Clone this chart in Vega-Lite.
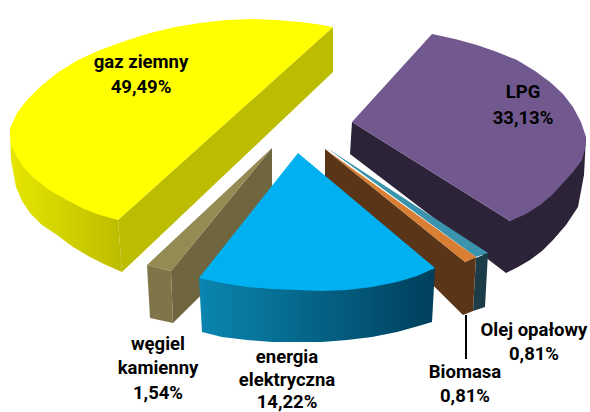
{
"$schema":"https://vega.github.io/schema/vega-lite/v6.json",
"width":590,"height":412,"padding":0,"autosize":{"type":"none"},
"background":"white","view":{"stroke":null},
"datasets":{
"shapes":[
{"part":"gas side curved","i":0,"px":10,"py":128},{"part":"gas side curved","i":1,"px":11,"py":160},{"part":"gas side curved","i":2,"px":16,"py":187},{"part":"gas side curved","i":3,"px":22,"py":201},{"part":"gas side curved","i":4,"px":30,"py":213},{"part":"gas side curved","i":5,"px":42,"py":225},{"part":"gas side curved","i":6,"px":57,"py":235},{"part":"gas side curved","i":7,"px":73,"py":247},{"part":"gas side curved","i":8,"px":90,"py":257},{"part":"gas side curved","i":9,"px":106,"py":265},{"part":"gas side curved","i":10,"px":122,"py":272},{"part":"gas side curved","i":11,"px":118,"py":220},{"part":"gas side curved","i":12,"px":67,"py":200},{"part":"gas side curved","i":13,"px":33,"py":177},{"part":"gas side curved","i":14,"px":17,"py":157},
{"part":"gas wall","i":0,"px":118,"py":220},{"part":"gas wall","i":1,"px":333,"py":27},{"part":"gas wall","i":2,"px":333,"py":72},{"part":"gas wall","i":3,"px":122,"py":272},
{"part":"gas top","i":0,"px":333,"py":27},{"part":"gas top","i":1,"px":316,"py":24},{"part":"gas top","i":2,"px":300,"py":22},{"part":"gas top","i":3,"px":276,"py":20},{"part":"gas top","i":4,"px":253,"py":19},{"part":"gas top","i":5,"px":226,"py":20},{"part":"gas top","i":6,"px":200,"py":23},{"part":"gas top","i":7,"px":175,"py":27},{"part":"gas top","i":8,"px":150,"py":33},{"part":"gas top","i":9,"px":125,"py":41},{"part":"gas top","i":10,"px":100,"py":50},{"part":"gas top","i":11,"px":78,"py":60},{"part":"gas top","i":12,"px":57,"py":73},{"part":"gas top","i":13,"px":41,"py":86},{"part":"gas top","i":14,"px":27,"py":100},{"part":"gas top","i":15,"px":17,"py":113},{"part":"gas top","i":16,"px":10,"py":128},{"part":"gas top","i":17,"px":11,"py":145},{"part":"gas top","i":18,"px":17,"py":157},{"part":"gas top","i":19,"px":24,"py":168},{"part":"gas top","i":20,"px":33,"py":177},{"part":"gas top","i":21,"px":49,"py":190},{"part":"gas top","i":22,"px":67,"py":200},{"part":"gas top","i":23,"px":84,"py":209},{"part":"gas top","i":24,"px":100,"py":215},{"part":"gas top","i":25,"px":118,"py":220},
{"part":"coal wall","i":0,"px":272,"py":148},{"part":"coal wall","i":1,"px":171,"py":271},{"part":"coal wall","i":2,"px":173,"py":323},{"part":"coal wall","i":3,"px":272,"py":225},
{"part":"coal front","i":0,"px":147,"py":265},{"part":"coal front","i":1,"px":171,"py":271},{"part":"coal front","i":2,"px":173,"py":323},{"part":"coal front","i":3,"px":150,"py":318},
{"part":"coal top","i":0,"px":272,"py":148},{"part":"coal top","i":1,"px":147,"py":265},{"part":"coal top","i":2,"px":171,"py":271},
{"part":"lpg side","i":0,"px":352,"py":122},{"part":"lpg side","i":1,"px":350,"py":154},{"part":"lpg side","i":2,"px":506,"py":273},{"part":"lpg side","i":3,"px":518,"py":267},{"part":"lpg side","i":4,"px":530,"py":260},{"part":"lpg side","i":5,"px":542,"py":251},{"part":"lpg side","i":6,"px":553,"py":240},{"part":"lpg side","i":7,"px":566,"py":225},{"part":"lpg side","i":8,"px":578,"py":207},{"part":"lpg side","i":9,"px":584,"py":175},{"part":"lpg side","i":10,"px":586,"py":137},{"part":"lpg side","i":11,"px":510,"py":221},
{"part":"lpg top","i":0,"px":432,"py":34},{"part":"lpg top","i":1,"px":455,"py":39},{"part":"lpg top","i":2,"px":477,"py":45},{"part":"lpg top","i":3,"px":497,"py":52},{"part":"lpg top","i":4,"px":517,"py":60},{"part":"lpg top","i":5,"px":535,"py":71},{"part":"lpg top","i":6,"px":550,"py":82},{"part":"lpg top","i":7,"px":563,"py":94},{"part":"lpg top","i":8,"px":573,"py":107},{"part":"lpg top","i":9,"px":581,"py":122},{"part":"lpg top","i":10,"px":586,"py":137},{"part":"lpg top","i":11,"px":585,"py":149},{"part":"lpg top","i":12,"px":582,"py":160},{"part":"lpg top","i":13,"px":573,"py":172},{"part":"lpg top","i":14,"px":563,"py":183},{"part":"lpg top","i":15,"px":552,"py":195},{"part":"lpg top","i":16,"px":540,"py":205},{"part":"lpg top","i":17,"px":526,"py":214},{"part":"lpg top","i":18,"px":510,"py":221},{"part":"lpg top","i":19,"px":352,"py":122},
{"part":"oil side","i":0,"px":488,"py":253},{"part":"oil side","i":1,"px":485,"py":307},{"part":"oil side","i":2,"px":473,"py":311},{"part":"oil side","i":3,"px":476,"py":258},
{"part":"oil top","i":0,"px":327,"py":148},{"part":"oil top","i":1,"px":488,"py":253},{"part":"oil top","i":2,"px":476,"py":257},
{"part":"biomass wall","i":0,"px":325,"py":149},{"part":"biomass wall","i":1,"px":465,"py":262},{"part":"biomass wall","i":2,"px":476,"py":257},{"part":"biomass wall","i":3,"px":473,"py":311},{"part":"biomass wall","i":4,"px":463,"py":315},{"part":"biomass wall","i":5,"px":325,"py":178},
{"part":"biomass top","i":0,"px":325,"py":149},{"part":"biomass top","i":1,"px":476,"py":257},{"part":"biomass top","i":2,"px":465,"py":262},
{"part":"electric side","i":0,"px":199,"py":278},{"part":"electric side","i":1,"px":202,"py":332},{"part":"electric side","i":2,"px":222,"py":337},{"part":"electric side","i":3,"px":247,"py":340},{"part":"electric side","i":4,"px":272,"py":342},{"part":"electric side","i":5,"px":297,"py":342},{"part":"electric side","i":6,"px":322,"py":342},{"part":"electric side","i":7,"px":347,"py":340},{"part":"electric side","i":8,"px":372,"py":337},{"part":"electric side","i":9,"px":397,"py":332},{"part":"electric side","i":10,"px":415,"py":327},{"part":"electric side","i":11,"px":432,"py":322},{"part":"electric side","i":12,"px":435,"py":268},
{"part":"electric top","i":0,"px":298,"py":153},{"part":"electric top","i":1,"px":435,"py":268},{"part":"electric top","i":2,"px":417,"py":276},{"part":"electric top","i":3,"px":397,"py":282},{"part":"electric top","i":4,"px":372,"py":287},{"part":"electric top","i":5,"px":347,"py":290},{"part":"electric top","i":6,"px":322,"py":291},{"part":"electric top","i":7,"px":297,"py":290},{"part":"electric top","i":8,"px":272,"py":289},{"part":"electric top","i":9,"px":247,"py":287},{"part":"electric top","i":10,"px":222,"py":283},{"part":"electric top","i":11,"px":199,"py":278}
],
"labels":[
{"label":"gaz ziemny","px":141,"py":62},{"label":"49,49%","px":141,"py":87},
{"label":"LPG","px":523,"py":92},{"label":"33,13%","px":523,"py":118},
{"label":"węgiel","px":158,"py":344},{"label":"kamienny","px":158,"py":368},{"label":"1,54%","px":158,"py":393},
{"label":"energia","px":287,"py":357},{"label":"elektryczna","px":287,"py":380},{"label":"14,22%","px":287,"py":402},
{"label":"Biomasa","px":465,"py":372},{"label":"0,81%","px":465,"py":396},
{"label":"Olej opałowy","px":534,"py":330},{"label":"0,81%","px":534,"py":354}
],
"leader":[{"px":466,"py":315},{"px":466,"py":359}]
},
"encoding":{
"x":{"field":"px","type":"quantitative","scale":{"domain":[0,590]},"axis":null},
"y":{"field":"py","type":"quantitative","scale":{"domain":[412,0]},"axis":null}
},
"layer":[
{"data":{"name":"shapes"},"transform":[{"filter":"datum.part==='gas side curved'"}],
 "mark":{"type":"line","filled":true,"strokeWidth":0,"color":{"gradient":"linear","x1":0,"x2":1,"y1":0,"y2":0,"stops":[{"offset":0,"color":"#E6E600"},{"offset":1,"color":"#BCBC00"}]}},
 "encoding":{"order":{"field":"i","type":"quantitative"}}},
{"data":{"name":"shapes"},"transform":[{"filter":"datum.part!=='gas side curved' && datum.part!=='electric side' && datum.part!=='electric top'"}],
 "mark":{"type":"line","filled":true,"strokeWidth":0},
 "encoding":{"order":{"field":"i","type":"quantitative"},"detail":{"field":"part"},
  "color":{"field":"part","type":"nominal","legend":null,"sort":null,"scale":{"domain":["gas wall","gas top","coal wall","coal front","coal top","lpg side","lpg top","oil side","oil top","biomass wall","biomass top"],"range":["#BCBC00","#FFFF00","#6F663F","#7F7549","#948A54","#2D2338","#71588F","#1C3C47","#3A94AE","#5A3518","#D87F33"]}}}},
{"data":{"name":"shapes"},"transform":[{"filter":"datum.part==='electric side'"}],
 "mark":{"type":"line","filled":true,"strokeWidth":0,"color":{"gradient":"linear","x1":0,"x2":1,"y1":0,"y2":0,"stops":[{"offset":0,"color":"#0A86B0"},{"offset":1,"color":"#003F5C"}]}},
 "encoding":{"order":{"field":"i","type":"quantitative"}}},
{"data":{"name":"shapes"},"transform":[{"filter":"datum.part==='electric top'"}],
 "mark":{"type":"line","filled":true,"strokeWidth":0,"color":"#00B0F0"},
 "encoding":{"order":{"field":"i","type":"quantitative"}}},
{"data":{"name":"leader"},"mark":{"type":"line","color":"#000000","strokeWidth":2}},
{"data":{"name":"labels"},"mark":{"type":"text","font":"Roboto","fontWeight":"bold","fontSize":18.5,"color":"#000000","align":"center","baseline":"middle"},
 "encoding":{"text":{"field":"label"}}}
]
}
